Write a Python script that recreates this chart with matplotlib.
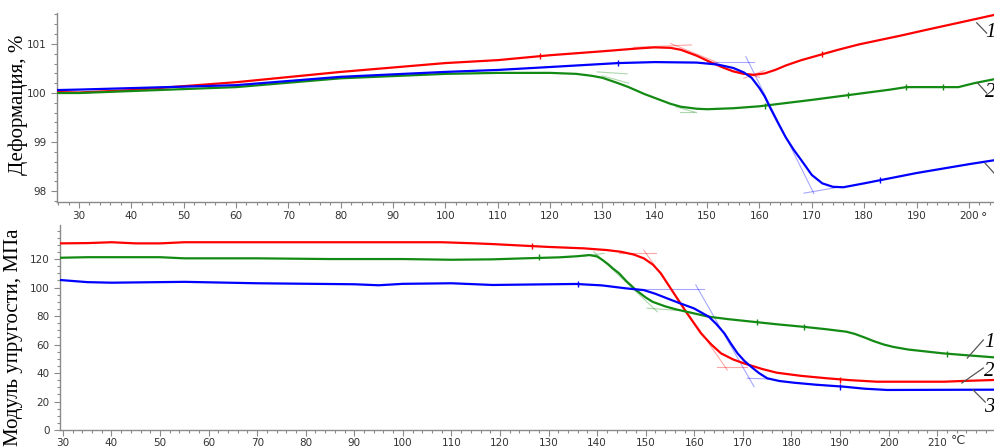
import matplotlib
matplotlib.use("Agg")
import matplotlib.pyplot as plt
from matplotlib.ticker import MultipleLocator

RED = "#ff0000"
GREEN = "#138a13"
BLUE = "#0000ff"

# --- top panel: deformation, % ---
top_red_t = [25.8, 30, 40, 50, 60, 80, 100, 110, 120, 130, 137, 140, 143, 145, 148, 150, 153, 155, 157, 159, 161, 163, 165, 168, 171, 175, 179, 183, 187, 192, 198, 204.8]
top_red_v = [100.02, 100.01, 100.06, 100.14, 100.22, 100.43, 100.61, 100.67, 100.77, 100.85, 100.91, 100.93, 100.92, 100.88, 100.76, 100.66, 100.52, 100.44, 100.39, 100.37, 100.40, 100.47, 100.56, 100.67, 100.76, 100.88, 100.99, 101.08, 101.17, 101.29, 101.43, 101.59]

top_blue_t = [25.8, 30, 60, 80, 100, 110, 120, 133, 140, 148, 152, 155, 157, 158.5, 160, 161, 162, 163.5, 165, 166.5, 168, 170, 172, 174, 176, 180, 190, 200, 204.8]
top_blue_v = [100.06, 100.07, 100.16, 100.33, 100.43, 100.47, 100.53, 100.61, 100.63, 100.62, 100.58, 100.51, 100.42, 100.31, 100.1, 99.93, 99.71, 99.40, 99.10, 98.85, 98.63, 98.33, 98.16, 98.09, 98.08, 98.16, 98.37, 98.55, 98.63]

top_green_t = [25.8, 30, 60, 80, 100, 110, 120, 125, 128, 130, 133, 135, 138, 140, 143, 145, 148, 150, 155, 160, 170, 180, 185, 188, 195, 198, 201, 204.8]
top_green_v = [100.0, 100.0, 100.12, 100.3, 100.39, 100.41, 100.41, 100.39, 100.35, 100.31, 100.2, 100.12, 99.98, 99.90, 99.78, 99.72, 99.68, 99.67, 99.69, 99.73, 99.86, 100.0, 100.07, 100.12, 100.12, 100.12, 100.2, 100.28]

# small marks left on the curves by the analysis software
top_marks = {
    RED: ([118, 172], [100.76, 100.79]),
    BLUE: ([133, 183], [100.61, 98.22]),
    GREEN: ([161, 177, 188, 195], [99.74, 99.96, 100.12, 100.12]),
}

# onset tangents: (t0, v0, t1, v1)
top_tangents = {
    RED: [(136, 100.93, 147, 100.98), (143, 101.01, 152, 100.62), (154, 100.48, 160, 100.32), (157, 100.3, 161, 100.46)],
    BLUE: [(150, 100.64, 159, 100.64), (157.4, 100.74, 170.4, 97.95), (168.5, 97.96, 175.5, 98.09)],
    GREEN: [(129, 100.43, 134.7, 100.39), (130, 100.35, 135, 100.2), (144.9, 99.62, 147.5, 99.62), (144, 99.72, 148, 99.6)],
}

# --- bottom panel: elastic modulus, MPa ---
bot_red_t = [29.4, 35, 40, 45, 50, 55, 70, 90, 108, 115, 118.5, 130, 137.3, 142, 144.9, 147.5, 149.6, 151.5, 153.1, 155.8, 158.5, 161.4, 163.5, 165.5, 168, 170.2, 174, 177, 182, 187.3, 192, 197.6, 205, 211.4, 216, 221.7]
bot_red_v = [131.0, 131.2, 131.8, 131.0, 131.0, 131.8, 131.8, 131.8, 131.8, 131.0, 130.5, 128.5, 127.5, 126.3, 125.1, 123.2, 120.5, 116.0, 110.0, 95.9, 81.9, 67.8, 60.0, 53.8, 49.5, 46.8, 42.8, 40.2, 38.0, 36.3, 35.0, 33.9, 33.9, 33.9, 34.5, 35.1]

bot_green_t = [29.4, 35, 40, 50, 55, 70, 85, 100, 110, 118.5, 125, 132.2, 136, 138.4, 140, 141.1, 142.2, 143.3, 144.5, 146, 148, 150, 151.4, 154, 156.2, 160, 163, 167, 172, 177, 182.3, 187, 191.3, 193, 195, 197, 199, 201, 204, 208, 211.2, 216, 221.7]
bot_green_v = [120.9, 121.3, 121.3, 121.3, 120.5, 120.5, 120.0, 120.0, 119.5, 119.8, 120.5, 121.2, 122.0, 122.8, 121.8, 119.3, 116.5, 113.2, 110.0, 104.5, 98.2, 93.0, 90.0, 86.8, 84.7, 81.8, 79.5, 77.8, 76.0, 74.2, 72.5, 70.8, 69.0, 67.5, 65.0, 62.3, 60.0, 58.3, 56.5, 55.0, 53.8, 52.5, 51.0]

bot_blue_t = [29.4, 35, 40, 55, 70, 90, 95, 100, 110, 118.5, 128, 135.7, 141, 146, 149.6, 152, 154.4, 157, 159.9, 163, 164.5, 166.2, 167.5, 168.9, 170.3, 171.7, 173.3, 175, 177.5, 180.5, 185, 190.8, 195, 199.7, 210, 221.7]
bot_blue_v = [105.3, 103.8, 103.4, 104.0, 103.0, 102.3, 101.6, 102.6, 103.0, 101.8, 102.2, 102.5, 101.5, 99.4, 98.2, 95.6, 92.4, 89.0, 85.4, 79.5, 74.5, 67.8, 60.8, 53.8, 48.5, 44.4, 40.0, 36.3, 34.4, 33.2, 31.8, 30.4, 29.0, 28.1, 28.2, 28.3]

bot_marks = {
    RED: ([126.5, 190], [129.0, 35.4]),
    GREEN: ([128, 173, 182.5, 212], [121.4, 75.7, 72.4, 53.6]),
    BLUE: ([136, 190], [102.5, 30.5]),
}

bot_tangents = {
    RED: [(144.5, 124.0, 152.1, 124.0), (149.6, 126.3, 166.8, 42.1), (164.7, 44.4, 170.9, 44.4)],
    GREEN: [(137.3, 122.1, 141.4, 124.0), (139.3, 125.1, 152.4, 83.0), (150.3, 85.5, 156.3, 84.0)],
    BLUE: [(148.3, 98.7, 162.0, 98.7), (160.3, 101.8, 172.3, 30.4), (170.9, 36.3, 175.7, 35.8)],
}

# curve numbers with leader lines: (text_t, text_v, label, line_t0, line_v0, line_t1, line_v1)
# the "3" of the top panel lies past the right edge of the picture, only its leader shows
top_labels = [
    (203.1, 101.24, "1", 201.5, 101.43, 203.4, 101.22),
    (203.1, 100.02, "2", 201.7, 100.20, 203.4, 100.00),
    (None, None, "3", 203.1, 98.57, 204.8, 98.37),
]
bot_labels = [
    (219.7, 61.5, "1", 216.2, 50.5, 219.5, 63.2),
    (219.7, 41.0, "2", 215.1, 33.0, 219.5, 43.5),
    (219.7, 15.5, "3", 217.4, 28.1, 219.9, 19.6),
]

TICK_COLOR = "#333333"
SPINE_COLOR = "#8a8a8a"


def style_axes(ax):
    for side in ("top", "right"):
        ax.spines[side].set_visible(False)
    for side in ("left", "bottom"):
        ax.spines[side].set_color(SPINE_COLOR)
        ax.spines[side].set_linewidth(1.0)
    ax.tick_params(which="both", direction="out", color=SPINE_COLOR, labelcolor=TICK_COLOR,
                   labelsize=7.5, width=0.8)
    ax.tick_params(which="major", length=4)
    ax.tick_params(which="minor", length=2.5)
    ax.xaxis.set_major_locator(MultipleLocator(10))
    ax.xaxis.set_minor_locator(MultipleLocator(2))
    ax.set_facecolor("none")


def draw_panel(ax, curves, marks, tangents, labels):
    for color, (t, v) in curves.items():
        ax.plot(t, v, color=color, lw=1.6, solid_capstyle="round", solid_joinstyle="round", zorder=3)
    for color, (t, v) in marks.items():
        ax.plot(t, v, ls="none", marker="|", ms=4, mew=1.0, color=color, zorder=4)
    for color, segs in tangents.items():
        for t0, v0, t1, v1 in segs:
            ax.plot([t0, t1], [v0, v1], color=color, lw=0.8, alpha=0.35, zorder=2)
    for tt, tv, lab, t0, v0, t1, v1 in labels:
        ax.plot([t0, t1], [v0, v1], color="#555555", lw=0.9, clip_on=False, zorder=5)
        if tt is not None:
            ax.text(tt, tv, lab, fontsize=15, fontstyle="italic", family="Liberation Serif",
                    ha="left", va="center", clip_on=False)


fig = plt.figure(figsize=(9.94, 4.47), dpi=100)
fig.patch.set_facecolor("white")

ax1 = fig.add_axes([57 / 994, 1 - 202 / 447, 1 - 57 / 994, 189 / 447])
style_axes(ax1)
ax1.set_xlim(25.8, 204.8)
ax1.set_ylim(97.78, 101.63)
ax1.yaxis.set_major_locator(MultipleLocator(1))
ax1.yaxis.set_minor_locator(MultipleLocator(0.2))
ax1.tick_params(axis="x", pad=2.5)
draw_panel(ax1,
           {RED: (top_red_t, top_red_v), GREEN: (top_green_t, top_green_v), BLUE: (top_blue_t, top_blue_v)},
           top_marks, top_tangents, top_labels)
ax1.annotate("°", xy=(202.3, 0), xycoords=("data", "axes fraction"), xytext=(0, -6.5),
             textcoords="offset points", fontsize=9, color=TICK_COLOR, ha="left", va="top")

ax2 = fig.add_axes([60 / 994, 1 - 430 / 447, 1 - 60 / 994, 205 / 447])
style_axes(ax2)
ax2.set_xlim(29.4, 221.7)
ax2.set_ylim(0, 143.9)
ax2.set_xticks(range(30, 220, 10))
ax2.yaxis.set_major_locator(MultipleLocator(20))
ax2.yaxis.set_minor_locator(MultipleLocator(5))
ax2.set_yticks(range(0, 140, 20))
ax2.tick_params(axis="x", pad=2)
draw_panel(ax2,
           {RED: (bot_red_t, bot_red_v), GREEN: (bot_green_t, bot_green_v), BLUE: (bot_blue_t, bot_blue_v)},
           bot_marks, bot_tangents, bot_labels)
ax2.text(212.8, -2.5, "°C", fontsize=9, color=TICK_COLOR, ha="left", va="top", clip_on=False)

fig.text(18 / 994, 1 - 105 / 447, "Деформация, %", rotation=90, ha="center", va="center",
         family="Liberation Serif", fontsize=15)
fig.text(14 / 994, 1 - 337 / 447, "Модуль упругости, МПа", rotation=90, ha="center", va="center",
         family="Liberation Serif", fontsize=15)

fig.savefig("out.png", dpi=100, facecolor="white")
